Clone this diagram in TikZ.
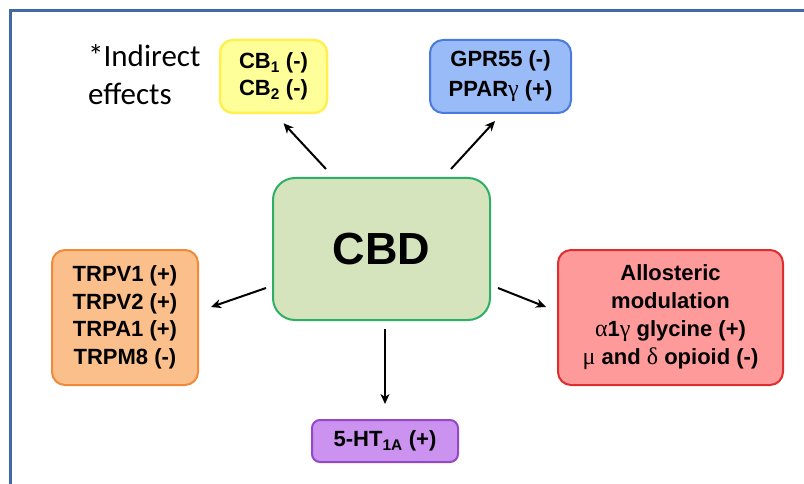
\documentclass[tikz,border=0pt]{standalone}
\usepackage{fontspec}
\setmainfont{Liberation Sans}
\newfontfamily\calib{Carlito}
\newfontfamily\grk{Liberation Serif}
\usetikzlibrary{arrows.meta}
\definecolor{frameblue}{HTML}{4169A3}
\definecolor{yfill}{HTML}{FFFF99}
\definecolor{ydraw}{HTML}{FFF050}
\definecolor{bfill}{HTML}{99BBF7}
\definecolor{bdraw}{HTML}{4A7BDC}
\definecolor{gfill}{HTML}{D6E4BD}
\definecolor{gdraw}{HTML}{2FAF65}
\definecolor{ofill}{HTML}{FBBF8B}
\definecolor{odraw}{HTML}{EE8A3A}
\definecolor{rfill}{HTML}{FF9A9A}
\definecolor{rdraw}{HTML}{DC2E2E}
\definecolor{pfill}{HTML}{CB92F0}
\definecolor{pdraw}{HTML}{9448C8}
\tikzset{
  box/.style={rounded corners=13pt, line width=2pt, align=center, inner sep=0pt,
    font=\fontsize{22}{27}\selectfont\bfseries},
  arr/.style={line width=2pt, -{Stealth[length=10pt,width=9pt,inset=3pt]}},
}
\begin{document}
\begin{tikzpicture}[x=1pt,y=-1pt]
\useasboundingbox (0,0) rectangle (804,484);
\coordinate (fbl) at (10.5,484);
\coordinate (ftl) at (10.5,10.5);
\coordinate (ftr) at (804,10.5);
\draw[frameblue, line width=3pt] (fbl) -- (ftl) -- (ftr);

\node[anchor=north west, align=left, inner sep=0pt, font=\calib\fontsize{31}{38}\selectfont] (ind) at (88,44) {*Indirect\\effects};

\node[box, fill=yfill, draw=ydraw, line width=2.5pt, minimum width=107pt, minimum height=73pt] (cb) at (273.5,76.5)
  {CB\textsubscript{1} (-)\\CB\textsubscript{2} (-)};
\node[box, fill=bfill, draw=bdraw, minimum width=141pt, minimum height=73pt, font=\fontsize{22}{30}\selectfont\bfseries] (gpr) at (500.5,76.5)
  {GPR55 (-)\\PPAR{\grk\mdseries\fontsize{24}{30}\selectfont γ} (+)};
\node[box, rounded corners=22pt, fill=gfill, draw=gdraw, minimum width=217pt, minimum height=142pt, font=\fontsize{45}{50}\selectfont\bfseries] (cbd) at (381.5,249) {CBD};
\node[box, fill=ofill, draw=odraw, minimum width=146pt, minimum height=135pt, font=\fontsize{22}{27.5}\selectfont\bfseries] (trp) at (125,317.5)
  {TRPV1 (+)\\TRPV2 (+)\\TRPA1 (+)\\TRPM8 (-)};
\node[box, fill=rfill, draw=rdraw, minimum width=225pt, minimum height=135pt, font=\fontsize{22}{28}\selectfont\bfseries] (allo) at (670.5,317.5)
  {Allosteric\\modulation\\{\grk\mdseries\fontsize{24}{28}\selectfont α}1{\grk\mdseries\fontsize{24}{28}\selectfont γ} glycine (+)\\{\grk\mdseries\fontsize{24}{28}\selectfont μ} and {\grk\mdseries\fontsize{24}{28}\selectfont δ} opioid (-)};
\node[box, rounded corners=8pt, fill=pfill, draw=pdraw, minimum width=146pt, minimum height=42pt] (ht) at (385,441)
  {5-HT\textsubscript{1A} (+)};

\draw[arr] ([shift={(54,-8)}]cbd.north west) -- ([shift={(10,9)}]cb.south);
\draw[arr] ([shift={(-40,-8)}]cbd.north east) -- ([shift={(-5.5,7)}]gpr.south);
\draw[arr] ([shift={(-6,39)}]cbd.west) -- ([shift={(12,-10.5)}]trp.east);
\draw[arr] ([shift={(3.5,8)}]cbd.south) -- ([shift={(0,-15)}]ht.north);
\draw[arr] ([shift={(7,39)}]cbd.east) -- ([shift={(-11,-10.5)}]allo.west);
\end{tikzpicture}
\end{document}
